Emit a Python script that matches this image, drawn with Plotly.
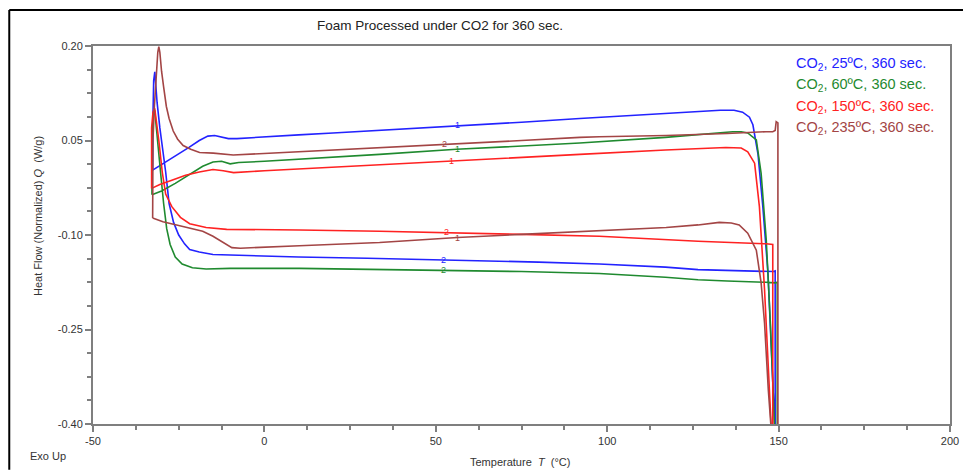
import plotly.graph_objects as go

# ---------------- data ----------------
TITLE = "Foam Processed under CO2 for 360 sec."
LEGEND_LABELS = ["CO<sub>2</sub>, 25ºC, 360 sec.", "CO<sub>2</sub>, 60ºC, 360 sec.",
                 "CO<sub>2</sub>, 150ºC, 360 sec.", "CO<sub>2</sub>, 235ºC, 360 sec."]
COLORS = ["#2323ff", "#1f8a2f", "#ff2222", "#a34545"]

blue_T = [-32.6, -30.5, -28, -25, -22, -19, -16.5, -14.5, -12.5, -10.5, -8, 0, 10, 20, 33.6, 56, 75, 92, 110, 125,
          133, 137, 139.5, 141.5, 142.5, 144, 145.4, 146.9, 148, 148.8,
          149.0, 149.0, 148.5, 140, 126.5, 117, 97.7, 80, 52, 30, 10, -5, -15, -19, -21.8, -23.3, -25, -26.5,
          -27.8, -28.8, -29.6, -30.5, -31.3, -31.97, -32.3, -32.5, -32.6]
blue_Q = [0.003, 0.010, 0.018, 0.028, 0.039, 0.050, 0.057, 0.058, 0.055, 0.053, 0.053, 0.056, 0.059, 0.062, 0.066,
          0.073, 0.079, 0.085, 0.091, 0.096, 0.098, 0.098, 0.095, 0.087, 0.075, 0.028, -0.055, -0.160, -0.293, -0.42,
          -0.42, -0.157, -0.158, -0.157, -0.155, -0.151, -0.146, -0.143, -0.139, -0.137, -0.135, -0.133, -0.131,
          -0.127, -0.123, -0.114, -0.100, -0.080, -0.050, 0.000, 0.030, 0.070, 0.110, 0.159, 0.145, 0.090, 0.003]

green_T = [-32.8, -30, -26, -22, -18, -15, -12.5, -10, -7.5, 0, 10.2, 33.6, 56, 75, 92, 117, 130, 136.6, 139.1,
           141, 143.5, 144.9, 146.4, 147.6, 148.8, 149.3,
           149.6, 149.6, 149.0, 146.3, 135, 126.5, 117, 97.7, 75, 52, 33.6, 10.2, -10, -17, -21, -24, -26,
           -27.5, -28.5, -29.4, -30.3, -31.2, -31.7, -32.0, -32.4, -32.8, -32.8]
green_Q = [-0.036, -0.030, -0.018, -0.004, 0.009, 0.016, 0.017, 0.013, 0.015, 0.017, 0.020, 0.028, 0.036, 0.041,
           0.046, 0.055, 0.061, 0.064, 0.064, 0.062, 0.051, -0.002, -0.108, -0.240, -0.400, -0.42,
           -0.42, -0.175, -0.176, -0.175, -0.173, -0.171, -0.167, -0.161, -0.158, -0.156, -0.154, -0.153, -0.153,
           -0.154, -0.152, -0.146, -0.135, -0.115, -0.090, -0.050, 0.000, 0.050, 0.085, 0.098, 0.090, 0.060, -0.036]

red_T = [-32.9, -30.5, -27, -23, -19, -15, -12, -9, 0, 10.2, 33.6, 54.5, 75, 92, 117, 126.5, 134.6, 139.1, 141,
         143, 144.4, 145.9, 147, 147.8, 148.2,
         148.3, 148.3, 147.6, 146.3, 126.5, 110, 97.7, 75, 53, 33.6, 10.2, -11, -17, -21.8, -24.5, -27, -28.8,
         -29.8, -30.8, -31.5, -32.0, -32.5, -32.9, -32.9]
red_Q = [-0.026, -0.020, -0.013, -0.005, 0.000, 0.004, 0.002, -0.001, 0.002, 0.005, 0.012, 0.018, 0.023, 0.028,
         0.035, 0.037, 0.039, 0.038, 0.032, 0.014, -0.055, -0.187, -0.319, -0.400, -0.42,
         -0.42, -0.115, -0.115, -0.114, -0.110, -0.105, -0.102, -0.099, -0.096, -0.094, -0.092, -0.091, -0.088,
         -0.082, -0.072, -0.055, -0.035, 0.000, 0.050, 0.085, 0.101, 0.095, 0.070, -0.026]

brown_T = [-32.6, -29.6, -25, -21, -18, -15, -12, -9.5, -7, 0, 10.2, 33.6, 56.3, 75, 92, 117.2, 126.5, 132.7,
           136.2, 138.5, 141, 143.5, 144.9, 145.9, 147.0, 147.6, 148,
           149.8, 149.8, 149.3, 149.0, 148.3, 146.3, 135, 126.5, 117.2, 97.7, 92, 75, 52.6, 33.6, 10.2, 0, -9.1,
           -14.9, -18.9, -21.5, -23.7, -25.3, -26.6, -27.8, -28.6, -29.4, -30.0, -30.5, -30.8, -31.1, -31.5,
           -32.1, -32.5, -32.6]
brown_Q = [-0.073, -0.079, -0.085, -0.090, -0.094, -0.102, -0.112, -0.120, -0.121, -0.119, -0.117, -0.112, -0.104,
           -0.099, -0.095, -0.088, -0.084, -0.080, -0.081, -0.084, -0.097, -0.124, -0.176, -0.240, -0.346, -0.400,
           -0.42,
           -0.42, 0.078, 0.080, 0.066, 0.064, 0.064, 0.061, 0.059, 0.058, 0.056, 0.055, 0.050, 0.044, 0.038, 0.032,
           0.029, 0.027, 0.030, 0.031, 0.036, 0.042, 0.052, 0.065, 0.085, 0.104, 0.135, 0.160, 0.190, 0.199, 0.190,
           0.157, 0.104, 0.051, -0.073]

# small segment labels on the curves: (text, T, Q, series index)
seg_text = ["1", "2", "1", "2", "1", "2", "2", "1"]
seg_T = [56.3, 52.1, 56.3, 52.1, 54.5, 53.0, 52.6, 56.3]
seg_Q = [0.074, -0.139, 0.036, -0.156, 0.018, -0.096, 0.044, -0.104]
seg_series = [0, 0, 1, 1, 2, 2, 3, 3]

x_ticks = [-50, 0, 50, 100, 150, 200]
y_ticks = [-0.40, -0.25, -0.10, 0.05, 0.20]

# ---------------- layout geometry (page pixels) ----------------
OFF = 8  # default page body margin
W, H = 971 - OFF, 470 - OFF
L, R, T, B = 93, 952.7, 46, 424.3   # plot area in page pixels


def px(x):
    return (x - L) / (R - L)


def py(y):
    return (B - y) / (B - T)


FONT = "Arial, Liberation Sans, Helvetica, sans-serif"
AXIS_GREY = "#7f7f7f"

fig = go.Figure()
series = [(blue_T, blue_Q), (green_T, green_Q), (red_T, red_Q), (brown_T, brown_Q)]
for (tt, qq), c, name in zip(series, COLORS, LEGEND_LABELS):
    fig.add_trace(go.Scatter(x=tt, y=qq, mode="lines", line=dict(color=c, width=1.6),
                             name=name, showlegend=False, hoverinfo="skip"))

annotations = []
annotations.append(dict(text=TITLE, xref="paper", yref="paper", x=px(441), y=py(25),
                        showarrow=False, font=dict(family=FONT, size=13.5, color="#222"),
                        xanchor="center", yanchor="middle"))
for i, (lab, c) in enumerate(zip(LEGEND_LABELS, COLORS)):
    annotations.append(dict(text=lab, xref="paper", yref="paper", x=px(796), y=py(64 + i * 21.5),
                            showarrow=False, font=dict(family=FONT, size=14.5, color=c),
                            xanchor="left", yanchor="middle"))
annotations.append(dict(text="Heat Flow (Normalized) <i>Q</i>  (W/g)", xref="paper", yref="paper",
                        x=px(38), y=py(216), textangle=-90, showarrow=False,
                        font=dict(family=FONT, size=11, color="#333"), xanchor="center", yanchor="middle"))
annotations.append(dict(text="Temperature  <i>T</i>  (°C)", xref="paper", yref="paper",
                        x=px(521), y=py(462), showarrow=False,
                        font=dict(family=FONT, size=11, color="#333"), xanchor="center", yanchor="middle"))
annotations.append(dict(text="Exo Up", xref="paper", yref="paper", x=px(28), y=py(456),
                        showarrow=False, font=dict(family=FONT, size=11, color="#333"),
                        xanchor="left", yanchor="middle"))
for s, tx, qv, si in zip(seg_text, seg_T, seg_Q, seg_series):
    annotations.append(dict(text=s, x=tx, y=qv, xref="x", yref="y", showarrow=False,
                            font=dict(family=FONT, size=9, color=COLORS[si]),
                            xanchor="center", yanchor="middle"))

shapes = [
    dict(type="line", xref="paper", yref="paper", x0=px(9), x1=px(971), y0=py(10), y1=py(10),
         line=dict(color="black", width=2)),
    dict(type="line", xref="paper", yref="paper", x0=px(9), x1=px(9), y0=py(10), y1=py(470),
         line=dict(color="black", width=2)),
    dict(type="line", xref="paper", yref="paper", x0=px(967), x1=px(967), y0=py(10), y1=py(14),
         line=dict(color="black", width=2)),
]

fig.update_layout(
    width=W, height=H,
    margin=dict(l=L - OFF, r=971 - R, t=T - OFF, b=470 - B, pad=0),
    paper_bgcolor="white", plot_bgcolor="white",
    annotations=annotations, shapes=shapes,
    showlegend=False,
    font=dict(family=FONT, size=11, color="#333"),
)
fig.update_xaxes(range=[-50, 200], tickvals=x_ticks, ticktext=[str(v) for v in x_ticks],
                 showgrid=False, zeroline=False, showline=True, mirror=True,
                 linecolor=AXIS_GREY, linewidth=2, ticks="outside", ticklen=6, tickwidth=1.5,
                 tickcolor=AXIS_GREY, tickfont=dict(family=FONT, size=11, color="#333"),
                 minor=dict(dtick=12.5, tick0=-50, ticks="outside", ticklen=4, tickwidth=1.5,
                            tickcolor=AXIS_GREY, showgrid=False))
fig.update_yaxes(range=[-0.40, 0.20], tickvals=y_ticks, ticktext=[f"{v:.2f}" for v in y_ticks],
                 showgrid=False, zeroline=False, showline=True, mirror=True,
                 linecolor=AXIS_GREY, linewidth=2, ticks="outside", ticklen=6, tickwidth=1.5,
                 tickcolor=AXIS_GREY, tickfont=dict(family=FONT, size=11, color="#333"),
                 minor=dict(dtick=0.0375, tick0=-0.40, ticks="outside", ticklen=4, tickwidth=1.5,
                            tickcolor=AXIS_GREY, showgrid=False))

fig.write_html("out.html")
